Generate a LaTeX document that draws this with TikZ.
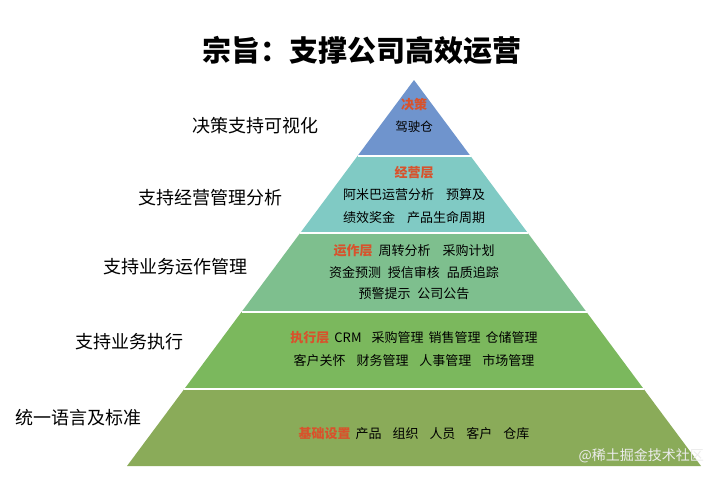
\documentclass[tikz,border=0pt]{standalone}
\usepackage{fontspec}
\setmainfont{Noto Sans CJK SC}
\definecolor{layA}{RGB}{111,148,205}
\definecolor{layB}{RGB}{128,202,196}
\definecolor{layC}{RGB}{126,191,142}
\definecolor{layD}{RGB}{123,184,93}
\definecolor{layE}{RGB}{138,171,89}
\definecolor{accent}{RGB}{216,82,44}
\newcommand{\gapw}[1]{\hspace{#1pt}}
\newcommand{\hl}[1]{{\color{accent}\bfseries #1}}
\tikzset{
  sep/.style={white, line width=2.6pt},
  side/.style={font=\fontsize{18}{20}\selectfont, inner sep=0pt},
  inner/.style={font=\fontsize{13}{15}\selectfont, inner sep=0pt},
}
\begin{document}
\begin{tikzpicture}[x=1pt,y=-1pt]
\useasboundingbox (0,0) rectangle (720,479);
\fill[white] (0,0) rectangle (720,479);
\coordinate (A) at (414,80);
\coordinate (L1) at (357.5,156); \coordinate (R1) at (470.5,156);
\coordinate (L2) at (300.2,233); \coordinate (R2) at (527.8,233);
\coordinate (L3) at (241.5,312); \coordinate (R3) at (586.5,312);
\coordinate (L4) at (184.3,389); \coordinate (R4) at (643.7,389);
\coordinate (L5) at (127,466);   \coordinate (R5) at (701,466);
\fill[layA] (A) -- (L1) -- (R1) -- cycle;
\fill[layB] (L1) -- (L2) -- (R2) -- (R1) -- cycle;
\fill[layC] (L2) -- (L3) -- (R3) -- (R2) -- cycle;
\fill[layD] (L3) -- (L4) -- (R4) -- (R3) -- cycle;
\fill[layE] (L4) -- (L5) -- (R5) -- (R4) -- cycle;
\foreach \i in {1,...,4} \draw[sep] (L\i) -- (R\i);

\node[font=\fontsize{29}{32}\selectfont\bfseries, inner sep=0pt] (title) at (362,50) {宗旨：支撑公司高效运营};

\node[side, anchor=west] (s1) at (192,126) {决策支持可视化};
\node[side, anchor=west] (s2) at (138,198) {支持经营管理分析};
\node[side, anchor=west] (s3) at (103,267) {支持业务运作管理};
\node[side, anchor=west] (s4) at (75,342) {支持业务执行};
\node[side, anchor=west] (s5) at (15,418) {统一语言及标准};

\node[inner] (a1) at (414,105) {\hl{决策}};
\node[inner, font=\fontsize{12.5}{14}\selectfont] (a2) at (414,127) {驾驶仓};

\node[inner] (b1) at (414,173) {\hl{经营层}};
\node[inner] (b2) at (414,195) {阿米巴运营分析\gapw{12}预算及};
\node[inner] (b3) at (414,218) {绩效奖金\gapw{12}产品生命周期};

\node[inner] (c1) at (414,251) {\hl{运作层}\gapw{6}周转分析\gapw{12}采购计划};
\node[inner] (c2) at (414,273) {资金预测\gapw{7}授信审核\gapw{7}品质追踪};
\node[inner] (c3) at (414,294) {预警提示\gapw{7}公司公告};

\node[inner] (d1) at (414,338) {\hl{执行层}\gapw{5}CRM\gapw{10}采购管理\gapw{5}销售管理\gapw{5}仓储管理};
\node[inner] (d2) at (414,361) {客户关怀\gapw{11}财务管理\gapw{11}人事管理\gapw{11}市场管理};

\node[inner] (e1) at (414,434) {\hl{基础设置}\gapw{5}产品\gapw{11}组织\gapw{11}人员\gapw{11}客户\gapw{11}仓库};

\node[font=\fontsize{14}{16}\selectfont, inner sep=0pt, text=white!85!gray, anchor=east] (wm) at (704,456) {@稀土掘金技术社区};
\end{tikzpicture}
\end{document}
